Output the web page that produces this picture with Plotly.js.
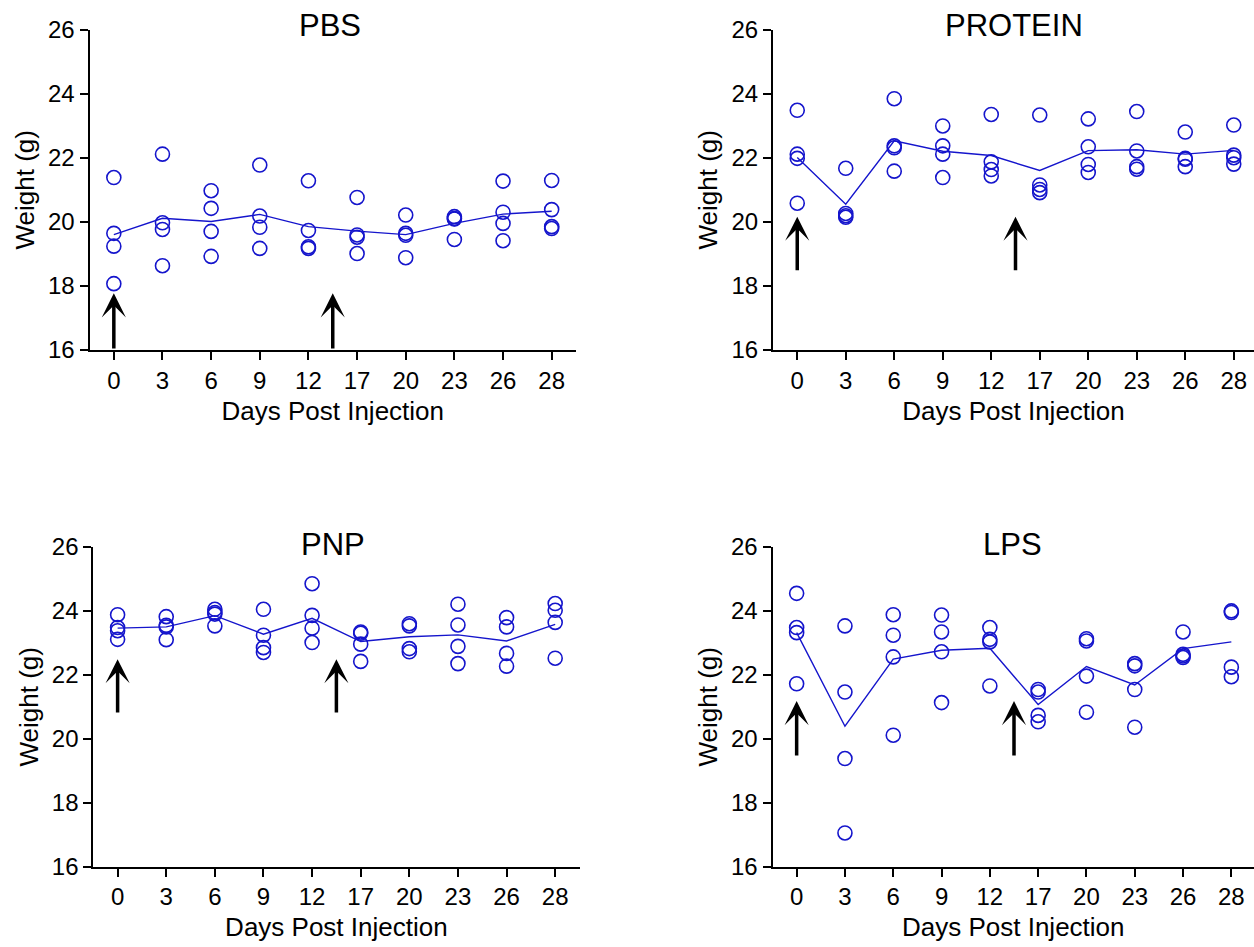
<!DOCTYPE html>
<html>
<head>
<meta charset="utf-8">
<script src="https://cdn.plot.ly/plotly-3.0.1.min.js"></script>
<style>html,body{margin:0;padding:0;background:#fff;}#chart{width:1254px;height:947px;}</style>
</head>
<body>
<div id="chart"></div>
<script>
// Day labels (categorical x axis)
const days = ["0","3","6","9","12","17","20","23","26","28"];

// Individual animal weights (g), 4 per day, per group
const pbsWeights = [
  [21.38, 19.64, 19.24, 18.07],
  [22.11, 19.97, 19.76, 18.63],
  [20.97, 20.42, 19.70, 18.92],
  [21.77, 20.18, 19.83, 19.17],
  [21.28, 19.73, 19.22, 19.17],
  [20.76, 19.59, 19.52, 19.01],
  [20.21, 19.64, 19.58, 18.88],
  [20.16, 20.10, 20.09, 19.45],
  [21.27, 20.30, 19.95, 19.41],
  [21.29, 20.38, 19.85, 19.79]
];
const pbsMean = [19.60, 20.11, 20.01, 20.23, 19.85, 19.71, 19.60, 19.95, 20.24, 20.33];

const proteinWeights = [
  [23.48, 22.11, 21.98, 20.58],
  [21.67, 20.26, 20.19, 20.14],
  [23.84, 22.37, 22.31, 21.58],
  [22.99, 22.37, 22.11, 21.38],
  [23.35, 21.87, 21.63, 21.43],
  [23.33, 21.15, 21.01, 20.91],
  [23.21, 22.34, 21.79, 21.54],
  [23.44, 22.21, 21.72, 21.64],
  [22.80, 21.98, 21.95, 21.72],
  [23.02, 22.08, 22.00, 21.80]
];
const proteinMean = [22.01, 20.55, 22.53, 22.20, 22.07, 21.60, 22.22, 22.25, 22.11, 22.23];

const pnpWeights = [
  [23.88, 23.48, 23.38, 23.11],
  [23.82, 23.55, 23.50, 23.10],
  [24.05, 23.95, 23.90, 23.53],
  [24.05, 23.24, 22.85, 22.70],
  [24.85, 23.86, 23.46, 23.01],
  [23.34, 23.30, 22.96, 22.42],
  [23.60, 23.53, 22.82, 22.72],
  [24.21, 23.56, 22.89, 22.35],
  [23.79, 23.50, 22.67, 22.27],
  [24.23, 24.02, 23.64, 22.52]
];
const pnpMean = [23.46, 23.50, 23.85, 23.27, 23.77, 23.04, 23.19, 23.25, 23.06, 23.58];

const lpsWeights = [
  [24.55, 23.48, 23.32, 21.72],
  [23.53, 21.46, 19.38, 17.05],
  [23.88, 23.24, 22.56, 20.11],
  [23.87, 23.34, 22.72, 21.13],
  [23.48, 23.11, 23.03, 21.65],
  [21.54, 21.46, 20.73, 20.53],
  [23.13, 23.06, 21.96, 20.83],
  [22.35, 22.28, 21.54, 20.36],
  [23.34, 22.64, 22.59, 22.54],
  [24.00, 23.95, 22.24, 21.94]
];
const lpsMean = [23.32, 20.39, 22.49, 22.77, 22.83, 21.07, 22.26, 21.68, 22.82, 23.03];

const groupTitles = ["PBS", "PROTEIN", "PNP", "LPS"];

// Injection arrows: category position (between days) and tail/tip weights per panel
const arrowPos = [0, 4.5];
const arrowTail = [16.0, 18.44, 20.77, 19.43];
const arrowTip  = [17.77, 20.16, 22.49, 21.18];

const blue = "#1515CC";
const groups = [
  {w: pbsWeights, m: pbsMean},
  {w: proteinWeights, m: proteinMean},
  {w: pnpWeights, m: pnpMean},
  {w: lpsWeights, m: lpsMean}
];

const traces = [];
groups.forEach((g, i) => {
  const sx = i === 0 ? "x" : "x" + (i + 1);
  const sy = i === 0 ? "y" : "y" + (i + 1);
  const xs = [], ys = [];
  g.w.forEach((arr, d) => arr.forEach(v => { xs.push(days[d]); ys.push(v); }));
  traces.push({
    type: "scatter", mode: "markers", x: xs, y: ys, xaxis: sx, yaxis: sy,
    marker: {symbol: "circle-open", size: 14, color: blue, line: {width: 1.6, color: blue}},
    showlegend: false, hoverinfo: "x+y"
  });
  traces.push({
    type: "scatter", mode: "lines", x: days, y: g.m, xaxis: sx, yaxis: sy,
    line: {color: blue, width: 1.4}, showlegend: false
  });
});

const W = 1254, H = 947;
const font = "Liberation Sans, Arial, sans-serif";
function xa(domain, range) {
  return {
    domain: domain, range: range, type: "category", categoryorder: "array", categoryarray: days,
    showline: true, linecolor: "#000", linewidth: 2, ticks: "outside", ticklen: 8, tickwidth: 2,
    tickcolor: "#000", showgrid: false, zeroline: false,
    tickfont: {family: font, size: 24, color: "#000"},
    title: {text: "Days Post Injection", font: {family: font, size: 26, color: "#000"}, standoff: 9},
    automargin: false, fixedrange: true
  };
}
function ya(domain, anchor) {
  return {
    domain: domain, range: [16, 26], tickvals: [16, 18, 20, 22, 24, 26],
    showline: true, linecolor: "#000", linewidth: 2, ticks: "outside", ticklen: 8, tickwidth: 2,
    tickcolor: "#000", showgrid: false, zeroline: false, anchor: anchor,
    tickfont: {family: font, size: 24, color: "#000"},
    title: {text: "Weight (g)", font: {family: font, size: 26, color: "#000"}, standoff: 6},
    automargin: false, fixedrange: true
  };
}

const topY = [1 - 350 / H, 1 - 29.5 / H];
const botY = [1 - 866.5 / H, 1 - 547 / H];
const layout = {
  width: W, height: H, margin: {l: 0, r: 0, t: 0, b: 0},
  paper_bgcolor: "#fff", plot_bgcolor: "#fff", showlegend: false,
  font: {family: font, color: "#000"},
  xaxis:  Object.assign(xa([89.5 / W, 576 / W], [-0.5, 9.5]), {anchor: "y"}),
  yaxis:  ya(topY, "x"),
  xaxis2: Object.assign(xa([773 / W, 1], [-0.5, (W - 773) / 48.5 - 0.5]), {anchor: "y2"}),
  yaxis2: ya(topY, "x2"),
  xaxis3: Object.assign(xa([93.3 / W, 579.5 / W], [-0.5, 9.5]), {anchor: "y3"}),
  yaxis3: ya(botY, "x3"),
  xaxis4: Object.assign(xa([772.5 / W, 1], [-0.5, (W - 772.5) / 48.3 - 0.5]), {anchor: "y4"}),
  yaxis4: ya(botY, "x4"),
  annotations: [],
  hovermode: "closest"
};

// Panel titles
const titleX = [330 / W, 1014 / W, 333 / W, 1012 / W];
const titleY = [1 - 25 / H, 1 - 25 / H, 1 - 544 / H, 1 - 544 / H];
groupTitles.forEach((t, i) => {
  layout.annotations.push({
    text: t, xref: "paper", yref: "paper", x: titleX[i], y: titleY[i],
    xanchor: "center", yanchor: "middle", showarrow: false,
    font: {family: font, size: 31, color: "#000"}
  });
});

// Arrows
for (let i = 0; i < 4; i++) {
  const sx = i === 0 ? "x" : "x" + (i + 1);
  const sy = i === 0 ? "y" : "y" + (i + 1);
  arrowPos.forEach(p => {
    layout.annotations.push({
      x: p, y: arrowTip[i], ax: p, ay: arrowTail[i], xref: sx, yref: sy, axref: sx, ayref: sy,
      showarrow: true, arrowhead: 3, arrowsize: 1.15, arrowwidth: 3.5, arrowcolor: "#000", text: ""
    });
  });
}

Plotly.newPlot("chart", traces, layout, {displayModeBar: false, staticPlot: true});
</script>
</body>
</html>
